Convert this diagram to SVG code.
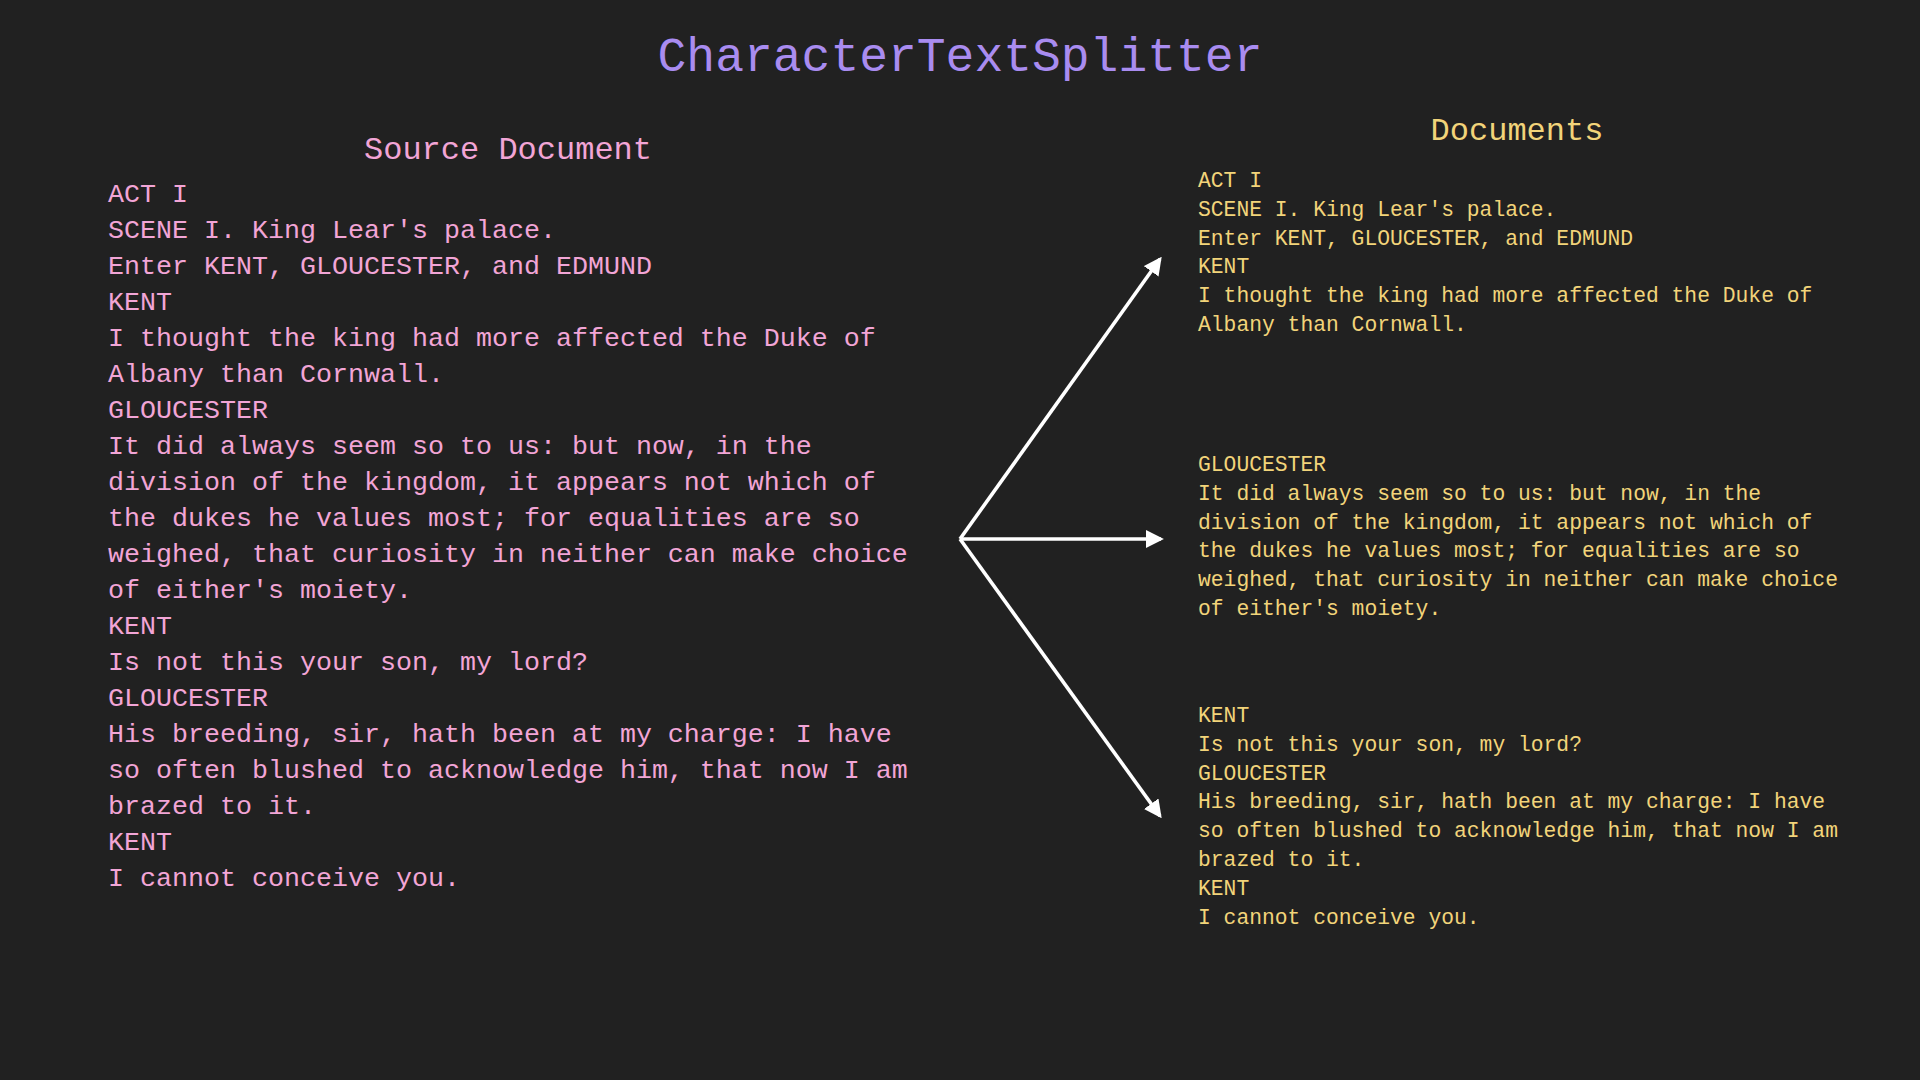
<svg xmlns="http://www.w3.org/2000/svg" width="1920" height="1080" viewBox="0 0 1920 1080">
  <defs>
    <marker id="arrowhead" markerWidth="5" markerHeight="5" refX="4.2" refY="2.5" orient="auto" markerUnits="strokeWidth">
      <path d="M0,0 L5,2.5 L0,5 Z" fill="#ffffff"/>
    </marker>
    <style>
      text { font-family: "Courier New", Courier, "Liberation Mono", "DejaVu Sans Mono", monospace; }
      .title { font-size: 48px; fill: #a98cf0; text-anchor: middle; }
      .src-head { font-size: 32px; fill: #f2a5d6; text-anchor: middle; }
      .src { font-size: 26.67px; fill: #f2a5d6; }
      .doc-head { font-size: 32px; fill: #f2d47a; text-anchor: middle; }
      .doc { font-size: 21.33px; fill: #f2d47a; }
      .edge { stroke: #ffffff; stroke-width: 3.6; fill: none; marker-end: url(#arrowhead); }
    </style>
  </defs>

  <rect x="0" y="0" width="1920" height="1080" fill="#212121"/>

  <text class="title" x="960" y="71">CharacterTextSplitter</text>

  <!-- full source text -->
  <g id="source-document">
    <text class="src-head" x="508" y="159">Source Document</text>
    <text class="src" x="108">
      <tspan x="108" y="202">ACT I</tspan>
      <tspan x="108" y="238">SCENE I. King Lear's palace.</tspan>
      <tspan x="108" y="274">Enter KENT, GLOUCESTER, and EDMUND</tspan>
      <tspan x="108" y="310">KENT</tspan>
      <tspan x="108" y="346">I thought the king had more affected the Duke of</tspan>
      <tspan x="108" y="382">Albany than Cornwall.</tspan>
      <tspan x="108" y="418">GLOUCESTER</tspan>
      <tspan x="108" y="454">It did always seem so to us: but now, in the</tspan>
      <tspan x="108" y="490">division of the kingdom, it appears not which of</tspan>
      <tspan x="108" y="526">the dukes he values most; for equalities are so</tspan>
      <tspan x="108" y="562">weighed, that curiosity in neither can make choice</tspan>
      <tspan x="108" y="598">of either's moiety.</tspan>
      <tspan x="108" y="634">KENT</tspan>
      <tspan x="108" y="670">Is not this your son, my lord?</tspan>
      <tspan x="108" y="706">GLOUCESTER</tspan>
      <tspan x="108" y="742">His breeding, sir, hath been at my charge: I have</tspan>
      <tspan x="108" y="778">so often blushed to acknowledge him, that now I am</tspan>
      <tspan x="108" y="814">brazed to it.</tspan>
      <tspan x="108" y="850">KENT</tspan>
      <tspan x="108" y="886">I cannot conceive you.</tspan>
    </text>
  </g>

  <text class="doc-head" x="1517" y="140">Documents</text>

  <!-- split chunks -->
  <g id="chunk-1">
    <text class="doc">
      <tspan x="1198" y="187">ACT I</tspan>
      <tspan x="1198" y="216">SCENE I. King Lear's palace.</tspan>
      <tspan x="1198" y="245">Enter KENT, GLOUCESTER, and EDMUND</tspan>
      <tspan x="1198" y="273">KENT</tspan>
      <tspan x="1198" y="302">I thought the king had more affected the Duke of</tspan>
      <tspan x="1198" y="331">Albany than Cornwall.</tspan>
    </text>
  </g>

  <g id="chunk-2">
    <text class="doc">
      <tspan x="1198" y="471">GLOUCESTER</tspan>
      <tspan x="1198" y="500">It did always seem so to us: but now, in the</tspan>
      <tspan x="1198" y="529">division of the kingdom, it appears not which of</tspan>
      <tspan x="1198" y="557">the dukes he values most; for equalities are so</tspan>
      <tspan x="1198" y="586">weighed, that curiosity in neither can make choice</tspan>
      <tspan x="1198" y="615">of either's moiety.</tspan>
    </text>
  </g>

  <g id="chunk-3">
    <text class="doc">
      <tspan x="1198" y="722">KENT</tspan>
      <tspan x="1198" y="751">Is not this your son, my lord?</tspan>
      <tspan x="1198" y="780">GLOUCESTER</tspan>
      <tspan x="1198" y="808">His breeding, sir, hath been at my charge: I have</tspan>
      <tspan x="1198" y="837">so often blushed to acknowledge him, that now I am</tspan>
      <tspan x="1198" y="866">brazed to it.</tspan>
      <tspan x="1198" y="895">KENT</tspan>
      <tspan x="1198" y="924">I cannot conceive you.</tspan>
    </text>
  </g>

  <g id="connectors">
    <line class="edge" x1="960" y1="539" x2="1160" y2="259"/>
    <line class="edge" x1="960" y1="539" x2="1161" y2="539"/>
    <line class="edge" x1="960" y1="539" x2="1160" y2="816"/>
  </g>
</svg>
